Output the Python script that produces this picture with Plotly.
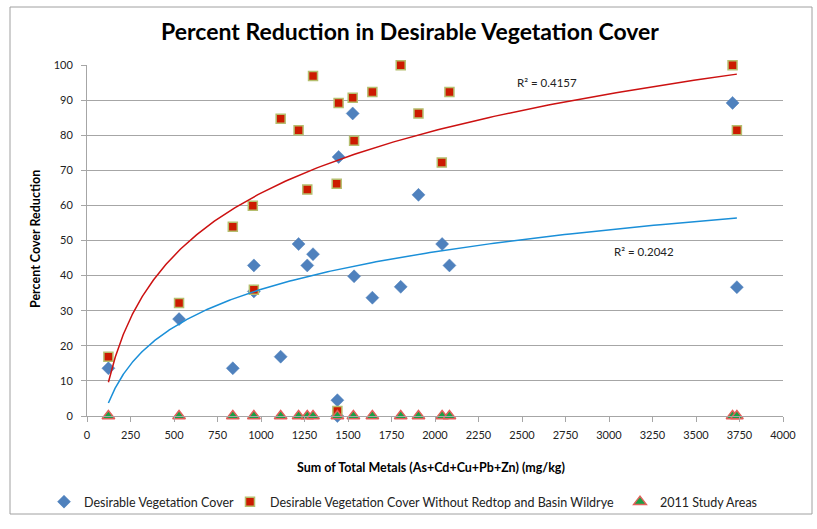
import numpy as np
import plotly.graph_objects as go

# ---- data ----
blue_x = [123, 529, 838, 959, 959, 1113, 1216, 1266, 1299, 1439, 1439, 1446, 1527, 1535,
          1640, 1803, 1905, 2041, 2083, 3710, 3735]
blue_y = [13.6, 27.6, 13.6, 42.9, 35.5, 16.9, 49.0, 42.9, 46.1, 0.0, 4.5, 73.8, 86.2, 39.8,
          33.7, 36.8, 63.0, 49.0, 42.9, 89.2, 36.7]

red_x = [123, 529, 838, 953, 959, 1113, 1216, 1266, 1299, 1435, 1439, 1446, 1527, 1535,
         1640, 1803, 1905, 2039, 2083, 3710, 3735]
red_y = [16.9, 32.2, 53.9, 59.9, 36.0, 84.7, 81.4, 64.5, 96.9, 66.2, 1.4, 89.2, 90.7, 78.4,
         92.3, 99.9, 86.2, 72.2, 92.3, 99.9, 81.4]

tri_x = [123, 529, 838, 959, 1113, 1216, 1266, 1299, 1439, 1531, 1640, 1803, 1905,
         2041, 2083, 3710, 3735]
tri_y = [0] * len(tri_x)

names = ["Desirable Vegetation Cover",
         "Desirable Vegetation Cover Without Redtop and Basin Wildrye",
         "2011 Study Areas"]
r2_labels = ["R² = 0.4157", "R² = 0.2042"]
x_ticks = list(range(0, 4001, 250))
y_ticks = list(range(0, 101, 10))

FONT = "Lato"


def log_fit(xs, ys):
    lx = np.log(np.asarray(xs, float))
    a, b = np.polyfit(lx, np.asarray(ys, float), 1)
    xx = np.geomspace(min(xs), max(xs), 300)
    return xx, a * np.log(xx) + b


L, R, T, B = 87, 783, 65, 416
W, H = 817, 529
pw, ph = R - L, B - T


def px(p):
    return (p - L) / pw


def py(q):
    return (B - q) / ph


fig = go.Figure()

fig.add_trace(go.Scatter(
    x=blue_x, y=blue_y, mode="markers", name=names[0], legend="legend",
    marker=dict(symbol="diamond", size=10, color="#4F81BD",
                line=dict(color="#4F81BD", width=0.5)),
    cliponaxis=False))

fig.add_trace(go.Scatter(
    x=red_x, y=red_y, mode="markers", name=names[1], legend="legend2",
    marker=dict(symbol="square", size=9, color="#CC1A00",
                line=dict(color="#B5BE6E", width=1.5)),
    cliponaxis=False))

fig.add_trace(go.Scatter(
    x=tri_x, y=tri_y, mode="markers", name=names[2], legend="legend3",
    marker=dict(symbol="triangle-up", size=11, color="#1AA046",
                line=dict(color="#E0605A", width=1.5)),
    cliponaxis=False))

rx, ry = log_fit(red_x, red_y)
fig.add_trace(go.Scatter(x=rx, y=ry, mode="lines", showlegend=False, hoverinfo="skip",
                         line=dict(color="#CC1111", width=1.5)))
bx, by = log_fit(blue_x, blue_y)
fig.add_trace(go.Scatter(x=bx, y=by, mode="lines", showlegend=False, hoverinfo="skip",
                         line=dict(color="#1A8FD8", width=1.5)))


def legend_at(text_left):
    return dict(orientation="h", x=px(text_left - 40), xanchor="left",
                y=py(502), yanchor="middle",
                font=dict(family=FONT, size=12.5, color="#222222"),
                bgcolor="rgba(0,0,0,0)", itemwidth=30)


grid = "#A6A6A6"
fig.update_layout(
    width=W, height=H,
    margin=dict(l=L, r=W - R, t=T, b=H - B, autoexpand=False),
    paper_bgcolor="white", plot_bgcolor="white",
    font=dict(family=FONT, size=11, color="#222222"),
    title=dict(text="<b>Percent Reduction in Desirable Vegetation Cover</b>",
               x=410 / W, xanchor="center", y=1 - 32 / H, yanchor="middle",
               font=dict(family=FONT, size=23, color="#000000")),
    xaxis=dict(range=[0, 4000], tickvals=x_ticks, ticks="outside", ticklen=5,
               tickcolor=grid, showgrid=False, showline=True, linecolor=grid,
               linewidth=1, zeroline=False, tickfont=dict(size=11),
               ticklabelstandoff=4),
    yaxis=dict(range=[0, 100], tickvals=y_ticks, ticks="outside", ticklen=5,
               tickcolor=grid, showgrid=True, gridcolor=grid, gridwidth=1,
               showline=True, linecolor=grid, linewidth=1, zeroline=False,
               tickfont=dict(size=11), ticklabelstandoff=6),
    legend=legend_at(84),
    legend2=legend_at(270),
    legend3=legend_at(660),
    showlegend=True,
)

fig.add_annotation(text="<b>Sum of Total Metals (As+Cd+Cu+Pb+Zn) (mg/kg)</b>",
                   xref="paper", yref="paper", x=px(431), y=py(467),
                   xanchor="center", yanchor="middle", showarrow=False,
                   font=dict(family=FONT, size=12.5, color="#000000"))
fig.add_annotation(text="<b>Percent Cover Reduction</b>", textangle=-90,
                   xref="paper", yref="paper", x=px(35), y=py(239),
                   xanchor="center", yanchor="middle", showarrow=False,
                   font=dict(family=FONT, size=12.5, color="#000000"))
fig.add_annotation(text=r2_labels[0], xref="paper", yref="paper", x=px(547), y=py(82),
                   xanchor="center", yanchor="middle", showarrow=False,
                   font=dict(family=FONT, size=11.5, color="#222222"))
fig.add_annotation(text=r2_labels[1], xref="paper", yref="paper", x=px(644), y=py(251),
                   xanchor="center", yanchor="middle", showarrow=False,
                   font=dict(family=FONT, size=11.5, color="#222222"))

fig.add_shape(type="rect", xref="paper", yref="paper",
              x0=px(10), x1=px(812), y0=py(514), y1=py(7),
              line=dict(color="#A0A0A0", width=1), layer="below")

fig.write_html("out.html",
               config={"displayModeBar": False},
               post_script="document.body.style.margin='0';"
                           "document.body.style.overflow='hidden';")
